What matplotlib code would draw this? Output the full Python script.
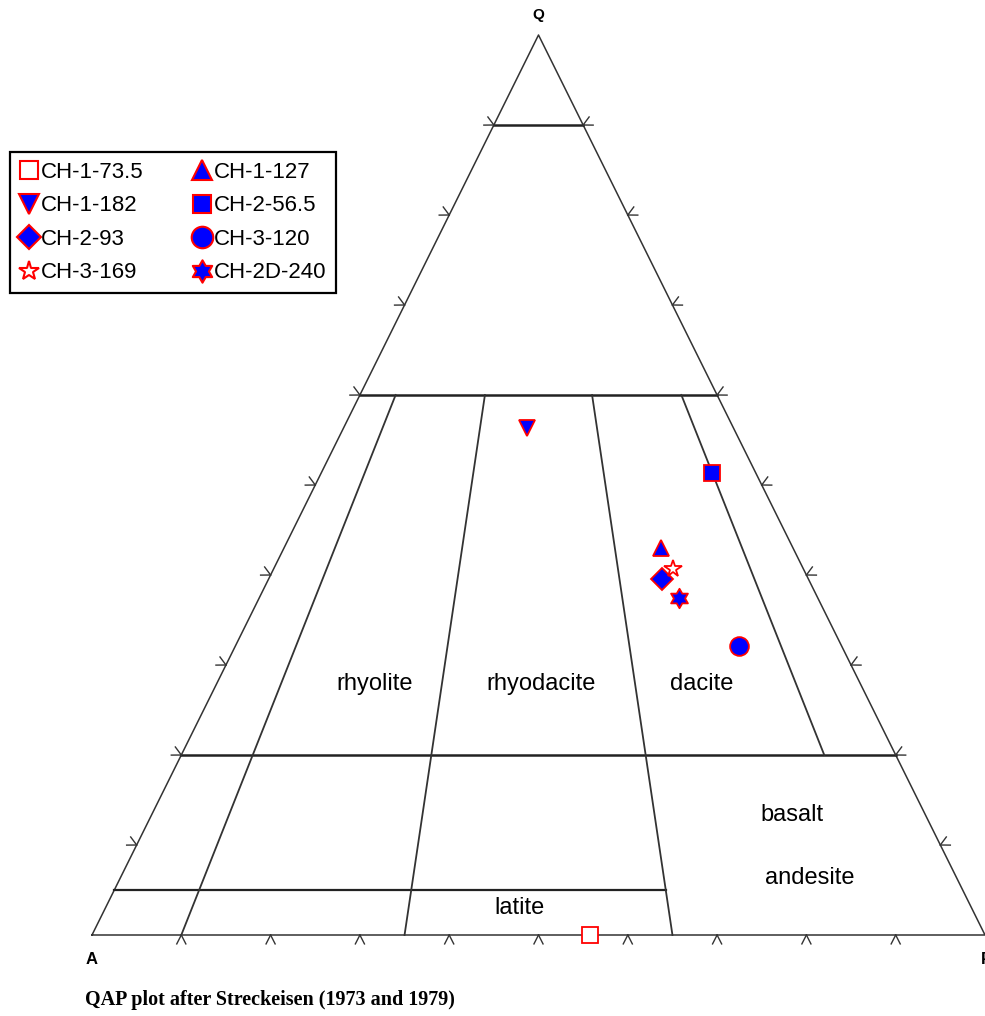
import numpy as np
import matplotlib.pyplot as plt
from matplotlib.path import Path
from matplotlib.lines import Line2D

# sample modal compositions (Q, A, P in %), legend order is column-wise
samples = ['CH-1-73.5', 'CH-1-182', 'CH-2-93', 'CH-3-169',
           'CH-1-127', 'CH-2-56.5', 'CH-3-120', 'CH-2D-240']
q_vals = [0.0, 56.3, 39.6, 40.7, 43.0, 51.3, 32.1, 37.4]
a_vals = [44.2, 23.1, 16.4, 14.6, 14.8, 4.9, 11.5, 15.6]
p_vals = [55.8, 20.6, 44.0, 44.7, 42.2, 43.8, 56.4, 47.0]

# field boundaries of the QAP diagram
q_levels = [90, 60, 20]
ratio_lines = [10, 35, 65, 90]        # P/(A+P) in %
ratio_q_low = [0, 0, 0, 20]           # lowest Q each ratio line reaches
q_latite = 5

field_names = ['rhyolite', 'rhyodacite', 'dacite', 'basalt', 'andesite', 'latite']
field_xy = [(0.316, 0.279), (0.503, 0.279), (0.683, 0.279),
            (0.784, 0.133), (0.804, 0.063), (0.479, 0.030)]

SX, SY = 893.0, 900.0   # pixels per data unit


def tern(q, a, p):
    tot = q + a + p
    return (p + q / 2.0) / tot, q / tot


def ratio_point(q, r):
    # point with Q=q (%) and P/(A+P)=r (%)
    p = (100 - q) * r / 100.0
    a = (100 - q) - p
    return tern(q, a, p)


# hexagram marker
ang = np.deg2rad(90 + 30 * np.arange(12))
rad = np.where(np.arange(12) % 2 == 0, 1.0, 1 / np.sqrt(3))
hex_verts = np.column_stack([rad * np.cos(ang), rad * np.sin(ang)])
hexagram = Path(np.vstack([hex_verts, hex_verts[:1]]), closed=True)

styles = {
    'CH-1-73.5': dict(marker='s', ms=11.5, mfc='white'),
    'CH-1-182': dict(marker='v', ms=12, mfc='blue'),
    'CH-2-93': dict(marker='D', ms=11, mfc='blue'),
    'CH-3-169': dict(marker='*', ms=13, mfc='white'),
    'CH-1-127': dict(marker='^', ms=12, mfc='blue'),
    'CH-2-56.5': dict(marker='s', ms=11.5, mfc='blue'),
    'CH-3-120': dict(marker='o', ms=13.5, mfc='blue'),
    'CH-2D-240': dict(marker=hexagram, ms=14, mfc='blue'),
}

fig = plt.figure(figsize=(9.85, 10.16), dpi=100)
ax = fig.add_axes([0, 0, 1, 1])
ax.set_xlim(-92 / SX, 893 / SX)
ax.set_ylim(-81 / SY, 935 / SY)
ax.axis('off')

edge_col = '#333333'
A = tern(0, 100, 0)
P = tern(0, 0, 100)
Q = tern(100, 0, 0)
ax.plot([A[0], P[0], Q[0], A[0]], [A[1], P[1], Q[1], A[1]], color=edge_col, lw=1.1)

# horizontal Q lines
for q in q_levels:
    x0, y0 = ratio_point(q, 0)
    x1, y1 = ratio_point(q, 100)
    ax.plot([x0, x1], [y0, y1], color='#222222', lw=1.8)
x0, y0 = ratio_point(q_latite, 0)
x1, y1 = ratio_point(q_latite, 65)
ax.plot([x0, x1], [y0, y1], color='#222222', lw=1.6)

# P/(A+P) divider lines
for r, qlo in zip(ratio_lines, ratio_q_low):
    x0, y0 = ratio_point(60, r)
    x1, y1 = ratio_point(qlo, r)
    ax.plot([x0, x1], [y0, y1], color=edge_col, lw=1.3)

# edge ticks every 10 %
def draw_tick(pt, normal_deg, length=10, spread=27):
    for d in (normal_deg - spread, normal_deg + spread):
        dx = length * np.cos(np.deg2rad(d)) / SX
        dy = length * np.sin(np.deg2rad(d)) / SY
        ax.plot([pt[0], pt[0] + dx], [pt[1], pt[1] + dy], color=edge_col, lw=1.0)

left_ang = np.degrees(np.arctan2((Q[1] - A[1]) * SY, (Q[0] - A[0]) * SX))
for k in range(1, 10):
    v = k * 10
    draw_tick(tern(0, 100 - v, v), 270)
    draw_tick(tern(v, 100 - v, 0), left_ang + 90)
    draw_tick(tern(v, 0, 100 - v), 90 - left_ang)

# samples
handles = []
for name, q, a, p in zip(samples, q_vals, a_vals, p_vals):
    x, y = tern(q, a, p)
    st = styles[name]
    ax.plot([x], [y], linestyle='none', marker=st['marker'], ms=st['ms'],
            mfc=st['mfc'], mec='red', mew=1.3, zorder=5)
    handles.append(Line2D([], [], linestyle='none', marker=st['marker'], ms=st['ms'],
                          mfc=st['mfc'], mec='red', mew=1.5))

leg = ax.legend(handles, samples, ncol=2, loc='upper left',
                bbox_to_anchor=(10 / 985, 1 - 152 / 1016), bbox_transform=fig.transFigure,
                frameon=True, fancybox=False, edgecolor='black', framealpha=1,
                prop=dict(family='Liberation Sans', size=16), markerscale=1.15,
                handlelength=0.85, handletextpad=0.1, columnspacing=2.2,
                labelspacing=0.56, borderpad=0.45, borderaxespad=0)
leg.get_frame().set_linewidth(1.6)

for name, (x, y) in zip(field_names, field_xy):
    ax.text(x, y, name, ha='center', va='center', fontsize=17,
            family='Liberation Sans')

ax.text(Q[0], Q[1] + 20 / SY, 'Q', ha='center', va='center', fontsize=11,
        family='Liberation Sans', weight='bold')
ax.text(A[0], A[1] - 25 / SY, 'A', ha='center', va='center', fontsize=12,
        family='Liberation Sans', weight='bold')
ax.text(P[0] - 4 / SX, P[1] - 25 / SY, 'P', ha='left', va='center', fontsize=12,
        family='Liberation Sans', weight='bold')

fig.text(85 / 985, 1 - 1000 / 1016, 'QAP plot after Streckeisen (1973 and 1979)',
         ha='left', va='center', fontsize=14.5, family='Liberation Serif', weight='bold')

fig.savefig('out.png', dpi=100)
